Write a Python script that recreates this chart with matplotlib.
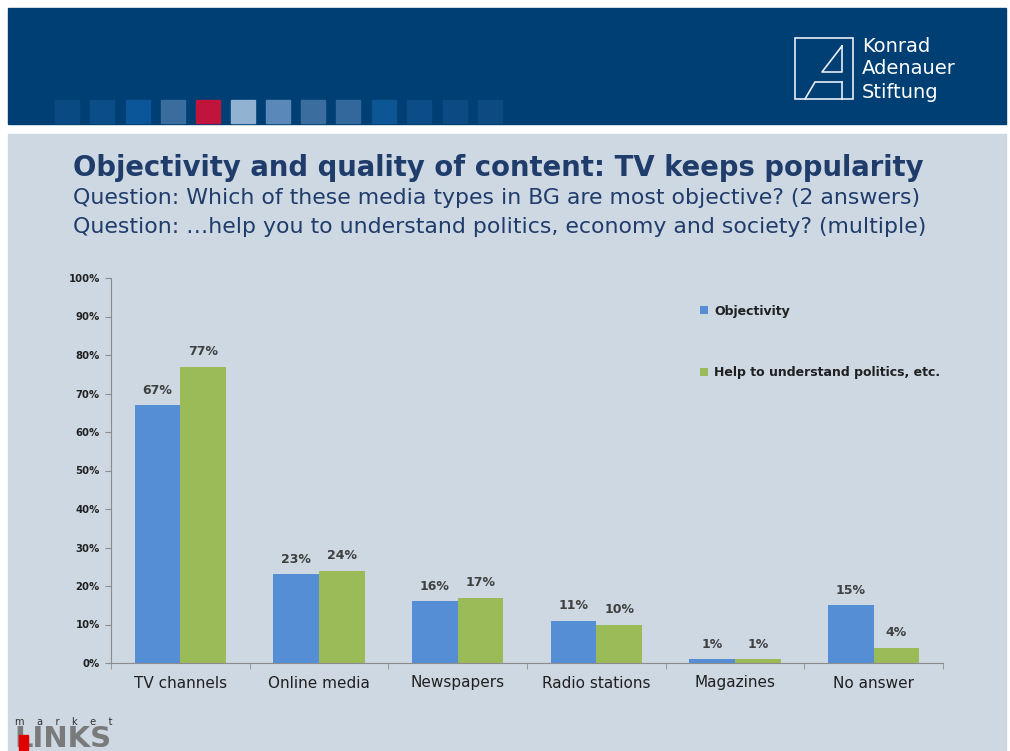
import matplotlib.pyplot as plt
import matplotlib.patches as mpatches
from matplotlib.lines import Line2D
import numpy as np

categories = ['TV channels', 'Online media', 'Newspapers', 'Radio stations', 'Magazines', 'No answer']
objectivity = [67, 23, 16, 11, 1, 15]
help_understand = [77, 24, 17, 10, 1, 4]
series_names = ['Objectivity', 'Help to understand politics, etc.']
yticks = list(range(0, 101, 10))

W, H = 1010, 751
fig = plt.figure(figsize=(W / 100, H / 100), dpi=100)
fig.patch.set_facecolor('white')


def fx(x):
    return x / W


def fy(y):
    return 1 - y / H


# header band and light panel
fig.patches.append(mpatches.Rectangle((fx(8), fy(124)), fx(998), 116 / H,
                                      transform=fig.transFigure, color='#003f74', zorder=-2))
fig.patches.append(mpatches.Rectangle((fx(8), 0), fx(998), fy(134),
                                      transform=fig.transFigure, color='#cdd8e3', zorder=-2))

# decorative squares in the header
sq_x = [55, 90, 126, 161, 196, 231, 266, 301, 336, 372, 407, 443, 478]
sq_c = ['#0a4a82', '#0b4d86', '#0b5599', '#3a6c9e', '#c0143c', '#92b2d2', '#5a88b8',
        '#3c6d9f', '#33689c', '#0c5696', '#0c4c87', '#0b4a83', '#0c4a81']
for x, c in zip(sq_x, sq_c):
    fig.patches.append(mpatches.Rectangle((fx(x), fy(123)), fx(24), 23 / H,
                                          transform=fig.transFigure, color=c, zorder=-1))

# Konrad Adenauer logo
lc = '#e8eef5'
fig.patches.append(mpatches.Rectangle((fx(795), fy(99)), fx(58), 61 / H, transform=fig.transFigure,
                                      fill=False, edgecolor=lc, lw=1.2, zorder=1))
for xs, ys in [([842, 822, 842, 842], [46, 72, 72, 46]),
               ([842, 815, 805], [82, 82, 99]), ([842, 842], [82, 99])]:
    fig.lines.append(Line2D([fx(v) for v in xs], [fy(v) for v in ys], transform=fig.transFigure,
                            color=lc, lw=1.2, zorder=1))
for i, t in enumerate(['Konrad', 'Adenauer', 'Stiftung']):
    fig.text(fx(862), fy(46 + i * 23), t, color='white', fontsize=14, va='center', ha='left')

# titles
navy = '#1f3c6b'
fig.text(fx(73), fy(168), 'Objectivity and quality of content: TV keeps popularity',
         fontsize=19.8, fontweight='bold', color=navy, va='center')
fig.text(fx(73), fy(198), 'Question: Which of these media types in BG are most objective? (2 answers)',
         fontsize=15.8, color=navy, va='center')
fig.text(fx(73), fy(227), 'Question: \u2026help you to understand politics, economy and society? (multiple)',
         fontsize=15.8, color=navy, va='center')

# chart
ax = fig.add_axes([fx(111), fy(663), fx(943 - 111), (663 - 278) / H])
ax.set_zorder(5)
ax.set_facecolor('none')
x = np.arange(len(categories))
bw = 0.33
blue, green = '#558ed5', '#9bbb59'
b1 = ax.bar(x - bw / 2, objectivity, bw, color=blue, label=series_names[0])
b2 = ax.bar(x + bw / 2, help_understand, bw, color=green, label=series_names[1])
for bars, vals in [(b1, objectivity), (b2, help_understand)]:
    for r, v in zip(bars, vals):
        ax.text(r.get_x() + r.get_width() / 2, v + 2.2, f'{v}%', ha='center', va='bottom',
                fontsize=9, fontweight='bold', color='#404040')

ax.set_xlim(-0.5, len(categories) - 0.5)
ax.set_ylim(0, 100)
ax.set_yticks(yticks)
ax.set_yticklabels([f'{v}%' for v in yticks], fontsize=7.3, fontweight='bold', color='#202020')
ax.set_xticks(x)
ax.set_xticklabels(categories, fontsize=11, color='#202020')
ax.set_xticks(np.arange(-0.5, len(categories)), minor=True)
ax.tick_params(axis='x', which='major', length=0, pad=9)
ax.tick_params(axis='x', which='minor', length=4, color='#8c8c8c')
ax.tick_params(axis='y', length=4, color='#8c8c8c', pad=4)
for s in ['top', 'right']:
    ax.spines[s].set_visible(False)
for s in ['left', 'bottom']:
    ax.spines[s].set_color('#8c8c8c')

leg = ax.legend(loc='upper left', bbox_to_anchor=(0.695, 0.96), frameon=False,
                handlelength=0.6, handleheight=0.6, handletextpad=0.5, labelspacing=3.9,
                prop={'weight': 'bold', 'size': 9})
for t in leg.get_texts():
    t.set_color('#202020')

# market LINKS logo
fig.text(fx(15), fy(722), 'm    a    r    k    e    t', fontsize=7, color='#303030', va='center')
fig.text(fx(14), fy(753), 'LINKS', fontsize=21, fontweight='bold', color='#7a7a7a', va='bottom')
fig.patches.append(mpatches.Rectangle((fx(19), fy(750)), fx(9), 15 / H,
                                      transform=fig.transFigure, color='#e00000', zorder=5))

fig.savefig('out.png', dpi=100)
